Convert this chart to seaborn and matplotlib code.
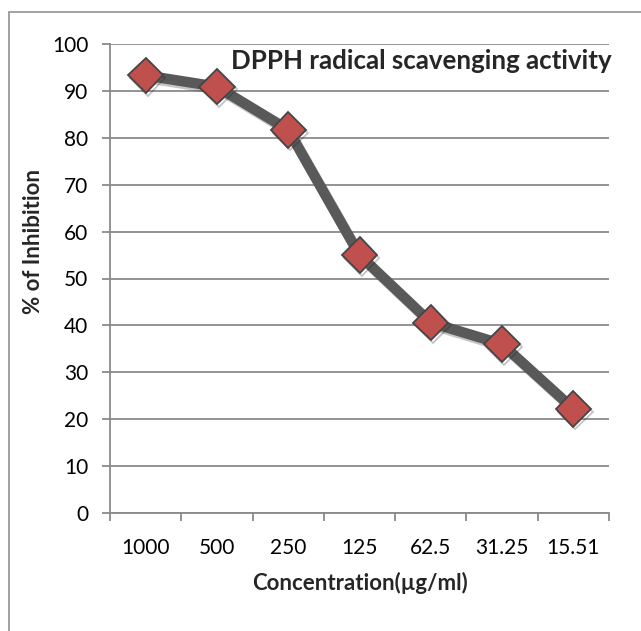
import matplotlib
matplotlib.use("Agg")
import matplotlib.pyplot as plt
import seaborn as sns
import pandas as pd
from matplotlib import patheffects as pe
from matplotlib.lines import Line2D

concentrations = ["1000", "500", "250", "125", "62.5", "31.25", "15.51"]
inhibition = [93.3, 90.9, 81.7, 55.0, 40.6, 36.0, 22.2]
y_ticks = [0, 10, 20, 30, 40, 50, 60, 70, 80, 90, 100]

sns.set_theme(style="white")
plt.rcParams['font.family'] = ['Lato', 'DejaVu Sans']

W, H = 641, 631
fig = plt.figure(figsize=(W / 100, H / 100), dpi=100)
ax = fig.add_axes([110 / W, 1 - 513 / H, 499 / W, 469 / H])

df = pd.DataFrame({"Concentration": concentrations, "Inhibition": inhibition})
sns.lineplot(data=df, x="Concentration", y="Inhibition", ax=ax, sort=False,
             color="#595959", linewidth=7.5, marker="D", markersize=18,
             markerfacecolor="#C0504D", markeredgecolor="#454545",
             markeredgewidth=1.3, clip_on=False,
             path_effects=[pe.SimpleLineShadow(offset=(1.5, -2), alpha=0.25), pe.Normal()])

grid_c = "#8a8a8a"
ax.set_xlim(-0.5, 6.5)
ax.set_ylim(0, 100)
ax.set_yticks(y_ticks)
ax.set_xticks(range(len(concentrations)))
ax.set_xticklabels(concentrations)
ax.set_xticks([i - 0.5 for i in range(len(concentrations) + 1)], minor=True)
ax.yaxis.grid(True, color=grid_c, linewidth=1.3)
ax.xaxis.grid(False)
ax.set_axisbelow(True)
for s in ["top", "right"]:
    ax.spines[s].set_visible(False)
for s in ["left", "bottom"]:
    ax.spines[s].set_color(grid_c)
    ax.spines[s].set_linewidth(1.3)

ax.tick_params(axis="y", left=True, length=5.5, width=1.3, color=grid_c,
               labelsize=15, labelcolor="black", pad=10)
ax.tick_params(axis="x", which="major", bottom=False, length=0,
               labelsize=15, labelcolor="black", pad=18)
ax.tick_params(axis="x", which="minor", bottom=True, length=5.5, width=1.3,
               color=grid_c)
ax.set_xlabel("")
ax.set_ylabel("")

fig.text(360 / W, 1 - 583 / H, "Concentration(µg/ml)", ha="center", va="center",
         fontsize=16, fontweight="bold")
fig.text(33 / W, 1 - 241 / H, "% of Inhibition", ha="center", va="center",
         rotation=90, fontsize=16, fontweight="bold")
fig.text(612 / W, 1 - 61 / H, "DPPH radical scavenging activity", ha="right",
         va="center", fontsize=18.6, fontweight="bold")

frame_c = "#9a9a9a"
fig.add_artist(Line2D([9 / W, 1.0], [1 - 12 / H, 1 - 12 / H], color=frame_c, lw=1.3))
fig.add_artist(Line2D([9 / W, 9 / W], [0.0, 1 - 12 / H], color=frame_c, lw=1.3))

fig.savefig("out.png", dpi=100, facecolor="white")
